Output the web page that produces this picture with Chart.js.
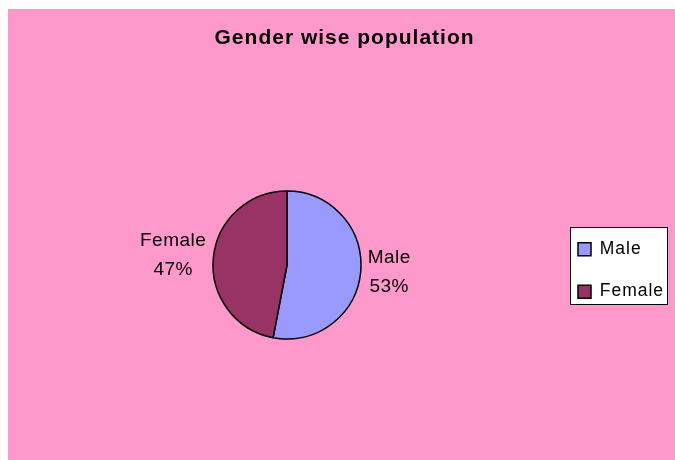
<!DOCTYPE html>
<html>
<head>
<meta charset="utf-8">
<script src="https://cdn.jsdelivr.net/npm/chart.js@4.4.1/dist/chart.umd.min.js"></script>
<style>
    html, body { margin: 0; padding: 0; background: #ffffff; overflow: hidden; }
    #panel { position: absolute; left: 8px; top: 9px; width: 667px; height: 451px; background: #FF99CC; }
</style>
</head>
<body>
<div id="panel"><canvas id="chart_gender" width="667" height="451"></canvas></div>
<script>
    "use strict";

    // Données du graphique
    var categories = ['Male', 'Female'];
    var population_share = [53, 47];
    var slice_colors = ['#9999FF', '#993366'];
    var chart_title = 'Gender wise population';

    var font_family = "'Liberation Sans', Arial, sans-serif";

    // Espacement des lettres un peu plus large, comme sur l'original
    var letter_spacing = {
        id: 'letter_spacing',
        beforeDraw: function (chart) {
            chart.ctx.letterSpacing = '1px';
        }
    };

    // Cadre blanc derrière la légende
    var legend_frame = {
        id: 'legend_frame',
        beforeDraw: function (chart) {
            var boxes = chart.legend && chart.legend.legendHitBoxes;
            if (!boxes || !boxes.length) return;
            var first = boxes[0];
            var last = boxes[boxes.length - 1];
            var ctx = chart.ctx;
            var x0 = Math.round(first.left - 7.5) + 0.5;
            var x1 = Math.round(first.left + 89) + 0.5;
            var y0 = Math.round(first.top - 13.3) + 0.5;
            var y1 = Math.round(last.top + 21.2) + 0.5;
            ctx.save();
            ctx.fillStyle = '#ffffff';
            ctx.strokeStyle = '#000000';
            ctx.lineWidth = 1;
            ctx.fillRect(x0, y0, x1 - x0, y1 - y0);
            ctx.strokeRect(x0, y0, x1 - x0, y1 - y0);
            ctx.restore();
        }
    };

    // Étiquettes "catégorie / pourcentage" à l'extérieur des parts
    var slice_labels = {
        id: 'slice_labels',
        afterDatasetsDraw: function (chart) {
            var ctx = chart.ctx;
            var meta = chart.getDatasetMeta(0);
            var values = chart.data.datasets[0].data;
            var total = values.reduce(function (a, b) { return a + b; }, 0);
            ctx.save();
            ctx.letterSpacing = '0.5px';
            ctx.font = '19px ' + font_family;
            ctx.fillStyle = '#000000';
            ctx.textAlign = 'center';
            ctx.textBaseline = 'middle';
            meta.data.forEach(function (arc, i) {
                var p = arc.getProps(['x', 'y', 'startAngle', 'endAngle', 'outerRadius'], true);
                var mid = (p.startAngle + p.endAngle) / 2;
                var dist = p.outerRadius + 7;
                var px = p.x + Math.cos(mid) * dist;
                var py = p.y + Math.sin(mid) * dist;
                var lines = [chart.data.labels[i], Math.round(values[i] / total * 100) + '%'];
                var w = Math.max(ctx.measureText(lines[0]).width, ctx.measureText(lines[1]).width);
                var cx = Math.cos(mid) >= 0 ? px + w / 2 : px - w / 2;
                var cy = Math.sin(mid) < 0 ? py - 2 : py;
                ctx.fillText(lines[0], cx, cy - 14.5);
                ctx.fillText(lines[1], cx, cy + 14.5);
            });
            ctx.restore();
        }
    };

    new Chart('chart_gender', {
        type: 'pie',
        data: {
            labels: categories,
            datasets: [{
                data: population_share,
                backgroundColor: slice_colors,
                borderColor: '#000000',
                borderWidth: 1.5,
                radius: 74
            }]
        },
        options: {
            responsive: false,
            animation: false,
            layout: { padding: { left: 13, right: 6.9, top: 0, bottom: 0 } },
            plugins: {
                title: {
                    display: true,
                    text: chart_title,
                    color: '#000000',
                    font: { family: font_family, size: 21, weight: 'bold' },
                    padding: { top: 16.8, bottom: 19 }
                },
                legend: {
                    position: 'right',
                    fullSize: false,
                    title: { display: true, text: '', font: { size: 1 }, padding: { top: 9.6, bottom: 0 } },
                    labels: {
                        boxWidth: 13,
                        boxHeight: 13,
                        padding: 25,
                        color: '#000000',
                        font: { family: font_family, size: 17.5 }
                    }
                },
                tooltip: { enabled: false }
            }
        },
        plugins: [letter_spacing, legend_frame, slice_labels]
    });
</script>
</body>
</html>
